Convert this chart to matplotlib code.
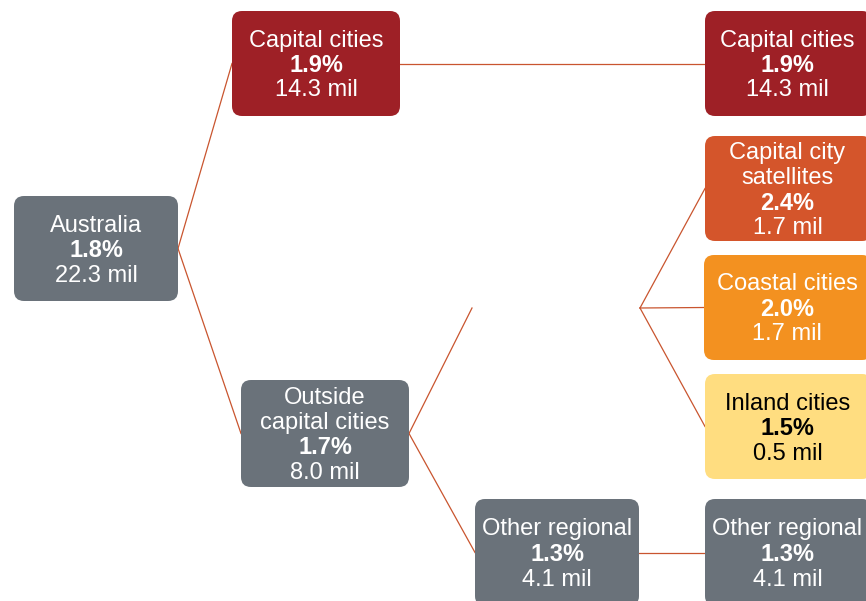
import matplotlib.pyplot as plt
from matplotlib.patches import FancyBboxPatch

plt.rcParams['font.family'] = ['Liberation Sans', 'DejaVu Sans']

# data
names = ["Australia", "Capital cities", "Outside\ncapital cities", "Other regional",
         "Capital cities", "Capital city\nsatellites", "Coastal cities", "Inland cities",
         "Other regional"]
growth = ["1.8%", "1.9%", "1.7%", "1.3%", "1.9%", "2.4%", "2.0%", "1.5%", "1.3%"]
population = ["22.3 mil", "14.3 mil", "8.0 mil", "4.1 mil", "14.3 mil", "1.7 mil",
              "1.7 mil", "0.5 mil", "4.1 mil"]
fills = ["#6a727a", "#9e2026", "#6a727a", "#6a727a", "#9e2026", "#d4552b",
         "#f39120", "#ffdd80", "#6a727a"]
text_cols = ["white"] * 7 + ["black", "white"]

# layout (pixel boxes: left, top, right, bottom)
boxes = [(14, 196, 178, 301), (232, 11, 400, 116), (241, 380, 409, 487),
         (475, 499, 639, 606), (705, 11, 872, 116), (705, 136, 872, 241),
         (704, 255, 872, 360), (705, 374, 872, 479), (705, 499, 872, 606)]

line_col = "#c9552f"

fig = plt.figure(figsize=(8.66, 6.01), dpi=100)
ax = fig.add_axes([0, 0, 1, 1])
ax.set_xlim(0, 866)
ax.set_ylim(601, 0)
ax.axis("off")


def left_mid(i):
    l, t, r, b = boxes[i]
    return l, (t + b) / 2


def right_mid(i):
    l, t, r, b = boxes[i]
    return r, (t + b) / 2


def seg(p, q):
    ax.plot([p[0], q[0]], [p[1], q[1]], color=line_col, lw=0.9, zorder=1)


# connectors
seg(right_mid(0), left_mid(1))
seg(right_mid(0), left_mid(2))
seg(right_mid(1), left_mid(4))
seg(right_mid(2), (472, 308))
seg(right_mid(2), left_mid(3))
hub = (640, 308)
for k in (5, 6, 7):
    seg(hub, left_mid(k))
seg(right_mid(3), left_mid(8))

rad = 10
for i, (l, t, r, b) in enumerate(boxes):
    ax.add_patch(FancyBboxPatch((l + rad, t + rad), r - l - 2 * rad, b - t - 2 * rad,
                                boxstyle="round,pad=%d" % rad, fc=fills[i], ec="none",
                                zorder=2))
    lines = names[i].split("\n")
    n = len(lines) + 2
    cy = (t + b) / 2 + 2
    ys = [cy + (k - (n - 1) / 2) * 25 for k in range(n)]
    cx = (l + r) / 2 if r < 866 else (l + 870) / 2
    for k, txt in enumerate(lines):
        ax.text(cx, ys[k], txt, ha="center", va="center", fontsize=17,
                color=text_cols[i], zorder=3)
    ax.text(cx, ys[-2], growth[i], ha="center", va="center", fontsize=17,
            fontweight="bold", color=text_cols[i], zorder=3)
    ax.text(cx, ys[-1], population[i], ha="center", va="center", fontsize=17,
            color=text_cols[i], zorder=3)

fig.savefig("out.png", dpi=100)
